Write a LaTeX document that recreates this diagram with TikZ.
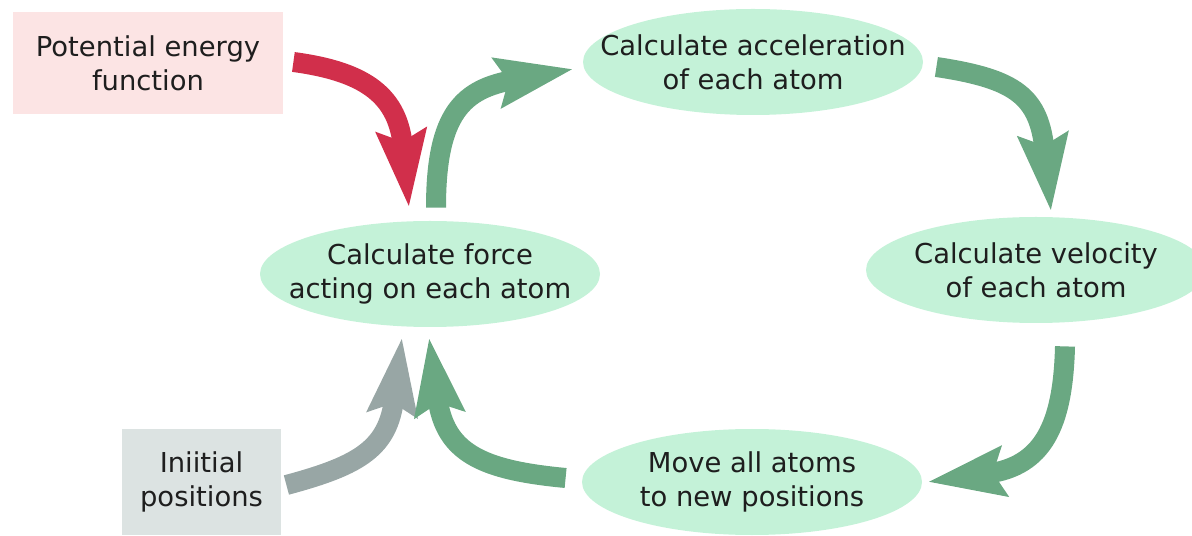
\documentclass[tikz,border=0pt]{standalone}
\usepackage{fontspec}
\setmainfont{DejaVu Sans}
\usepackage{tikz}
\usetikzlibrary{arrows.meta,calc,positioning,shapes.geometric}
\definecolor{mdgreen}{HTML}{6AA882}
\definecolor{mdfill}{HTML}{C4F2D8}
\definecolor{mdred}{HTML}{D12F4B}
\definecolor{mdgray}{HTML}{98A6A5}
\definecolor{mdpink}{HTML}{FCE4E4}
\definecolor{mdslate}{HTML}{DCE3E2}
\definecolor{mdtext}{HTML}{1E1E1E}
\tikzset{
every picture/.style={line join=round},
md text/.style={font=\fontsize{13.7pt}{17pt}\selectfont, text=mdtext, align=center},
step oval/.style={md text, ellipse, fill=mdfill, inner xsep=-18pt, inner ysep=0pt, minimum width=170pt, minimum height=53pt},
input box/.style={md text, rectangle, inner sep=0pt},
fat flow/.style={line width=10pt, line cap=butt, -{Stealth[length=38pt,width=24pt,inset=5pt]}},
cycle flow/.style={fat flow, draw=mdgreen}
}

\begin{document}
\begin{tikzpicture}[x=0.5pt,y=0.5pt]
\useasboundingbox (0,0) rectangle (1192,535);
% inputs
\node[input box, fill=mdpink, minimum width=135pt, minimum height=51pt] (pot) at (148,472) {Potential energy\\function};
\node[input box, fill=mdslate, minimum width=79.5pt, minimum height=53pt] (init) at (201.5,53) {Iniitial\\positions};
% the md loop
\node[step oval] (force) at (430,261) {Calculate force\\acting on each atom};
\node[step oval] (accel) at (753,473) {Calculate acceleration\\of each atom};
\node[step oval] (veloc) at (1036,265) {Calculate velocity\\of each atom};
\node[step oval] (move) at (752,53) {Move all atoms\\to new positions};
% arrows
\draw[fat flow, draw=mdred] ($(pot.east)+(10,1)$) .. controls +(75,-10) and +(-11,110) .. ($(force.north)+(-21,13)$);
\draw[fat flow, draw=mdgray] ($(init.east)+(5,-3)$) .. controls +(75,20) and +(-14,-110) .. ($(force.south)+(-28,-10)$);
\draw[cycle flow] ($(force.north)+(6,13)$) .. controls +(0,95) and +(-110,-20) .. ($(accel.west)+(-9,-7)$);
\draw[cycle flow] ($(accel.east)+(13,-5)$) .. controls +(80,-12) and +(-12,115) .. ($(veloc.north)+(15,5)$);
\draw[cycle flow] ($(veloc.south)+(29,-23)$) .. controls +(-2,-80) and +(115,16) .. ($(move.east)+(5,0)$);
\draw[cycle flow] ($(move.west)+(-16,4)$) .. controls +(-85,8) and +(16,-115) .. ($(force.south)+(-1,-10)$);
\end{tikzpicture}
\end{document}
